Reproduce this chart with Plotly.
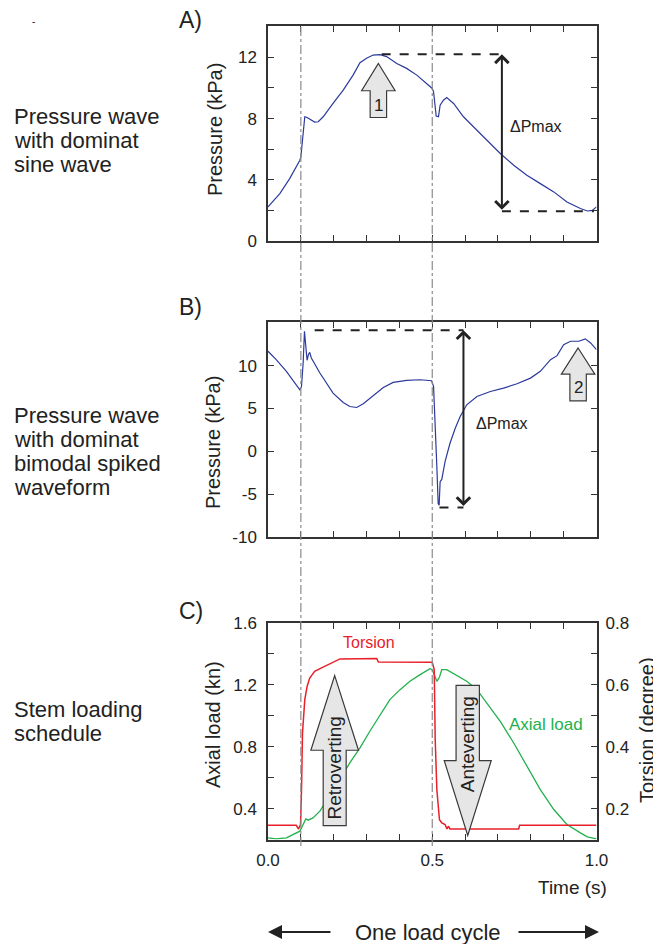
import plotly.graph_objects as go

# ---------------- DATA ----------------
time_a = [0.0, 0.036, 0.066, 0.097, 0.100, 0.107, 0.112, 0.119, 0.132, 0.142, 0.153, 0.168,
          0.198, 0.229, 0.259, 0.280, 0.300, 0.320, 0.341, 0.361, 0.392, 0.422, 0.453, 0.483,
          0.500, 0.504, 0.509, 0.512, 0.519, 0.524, 0.534, 0.544, 0.565, 0.595, 0.636, 0.677,
          0.707, 0.748, 0.788, 0.829, 0.870, 0.910, 0.951, 0.972, 0.987, 1.0]
pressure_a = [2.23, 3.1, 4.08, 5.28, 5.5, 7.24, 8.12, 8.07, 7.9, 7.77, 7.79, 8.12,
              9.0, 9.86, 10.84, 11.65, 11.94, 12.15, 12.18, 12.05, 11.6, 11.28, 10.84, 10.3,
              9.97, 9.75, 8.77, 8.16, 8.12, 8.88, 9.2, 9.38, 8.99, 8.12, 7.24, 6.37,
              5.72, 4.95, 4.3, 3.75, 3.21, 2.55, 2.12, 1.96, 2.0, 2.23]

time_b = [0.0, 0.025, 0.056, 0.086, 0.097, 0.102, 0.107, 0.111, 0.115, 0.119, 0.123, 0.127,
          0.132, 0.158, 0.198, 0.229, 0.249, 0.270, 0.290, 0.320, 0.351, 0.381, 0.422, 0.463,
          0.498, 0.504, 0.509, 0.514, 0.518, 0.521, 0.524, 0.529, 0.539, 0.554, 0.570, 0.585,
          0.605, 0.636, 0.677, 0.717, 0.758, 0.799, 0.829, 0.860, 0.880, 0.900, 0.921, 0.946,
          0.966, 0.982, 1.0]
pressure_b = [11.68, 10.7, 9.34, 7.77, 7.19, 7.58, 10.31, 14.02, 12.27, 10.63, 11.29, 11.56,
              10.9, 9.14, 6.8, 5.7, 5.23, 5.12, 5.55, 6.48, 7.46, 8.05, 8.28, 8.36,
              8.24, 7.58, 3.67, -1.8, -6.1, -6.29, -3.55, -3.28, -1.2, 0.94, 2.7, 4.06,
              5.43, 6.4, 6.99, 7.38, 7.89, 8.55, 9.34, 10.7, 11.17, 12.46, 12.85, 12.85,
              13.13, 12.66, 11.88]

time_axial = [0.0, 0.025, 0.056, 0.076, 0.097, 0.107, 0.115, 0.122, 0.137, 0.158, 0.188, 0.219,
              0.249, 0.280, 0.310, 0.341, 0.371, 0.402, 0.432, 0.463, 0.493, 0.500, 0.509, 0.514,
              0.522, 0.529, 0.544, 0.575, 0.605, 0.636, 0.666, 0.707, 0.748, 0.788, 0.829, 0.870,
              0.910, 0.951, 0.972, 1.0]
axial_load = [0.211, 0.204, 0.211, 0.232, 0.254, 0.297, 0.333, 0.325, 0.34, 0.383, 0.48, 0.588,
              0.695, 0.792, 0.9, 1.008, 1.105, 1.169, 1.223, 1.266, 1.305, 1.298, 1.255, 1.223,
              1.251, 1.298, 1.298, 1.26, 1.223, 1.169, 1.083, 0.964, 0.824, 0.674, 0.523, 0.394,
              0.297, 0.243, 0.217, 0.204]

time_torsion = [0.0, 0.086, 0.093, 0.099, 0.102, 0.105, 0.112, 0.119, 0.127, 0.142, 0.163, 0.183,
                0.198, 0.219, 0.331, 0.336, 0.500, 0.506, 0.509, 0.514, 0.522, 0.529, 0.539, 0.545,
                0.549, 0.554, 0.763, 0.766, 1.0]
torsion = [0.146, 0.146, 0.134, 0.148, 0.261, 0.444, 0.552, 0.595, 0.622, 0.644, 0.655, 0.665,
           0.673, 0.684, 0.685, 0.674, 0.673, 0.649, 0.423, 0.261, 0.164, 0.154, 0.148, 0.134,
           0.143, 0.134, 0.134, 0.146, 0.146]

x_tick_vals = [0.0, 0.5, 1.0]
a_tick_vals = [0, 4, 8, 12]
b_tick_vals = [-10, -5, 0, 5, 10]
b_tick_text = ["-10", "-5", "0", "5", "10"]
c_left_tick_vals = [0.4, 0.8, 1.2, 1.6]
c_right_tick_vals = [0.2, 0.4, 0.6, 0.8]

event_times = [0.1, 0.5]

# ---------------- STYLE / LAYOUT ----------------
W, H = 661, 944
OFF = 8  # page body margin offset of the plot div
FONT = "Liberation Sans, Arial, Helvetica, sans-serif"
TXT = "#222222"
FRAME = "#333333"
BLUE = "#2b3a9c"
GREEN = "#22b14c"
RED = "#e8202a"
ARROW_FILL = "#e6e6e6"


def px(x):
    return (x - OFF) / W


def py(y):
    return 1 - (y - OFF) / H


X_DOM = [px(268), px(596.5)]
A_DOM = [py(241), py(26)]
B_DOM = [py(537), py(322)]
C_DOM = [py(839.5), py(623)]

fig = go.Figure()
fig.add_trace(go.Scatter(x=time_a, y=pressure_a, mode="lines", line=dict(color=BLUE, width=1.2),
                         xaxis="x", yaxis="y", showlegend=False))
fig.add_trace(go.Scatter(x=time_b, y=pressure_b, mode="lines", line=dict(color=BLUE, width=1.2),
                         xaxis="x2", yaxis="y2", showlegend=False))
fig.add_trace(go.Scatter(x=time_axial, y=axial_load, mode="lines", line=dict(color=GREEN, width=1.3),
                         xaxis="x3", yaxis="y3", showlegend=False))
fig.add_trace(go.Scatter(x=time_torsion, y=torsion, mode="lines", line=dict(color=RED, width=1.5),
                         xaxis="x3", yaxis="y4", showlegend=False))

tickfont = dict(family=FONT, size=17, color=TXT)


def xaxis(show_labels, anchor):
    d = dict(domain=X_DOM, range=[0, 1], anchor=anchor, showline=True, linecolor=FRAME, linewidth=1.5,
             mirror="ticks", ticks="inside", ticklen=6, tickcolor=FRAME, tickwidth=1, showgrid=False,
             zeroline=False, tickfont=tickfont, automargin=False)
    if show_labels:
        d.update(tickvals=x_tick_vals, tickformat=".1f", ticklabelstandoff=4,
                 minor=dict(dtick=0.1, ticks="inside", ticklen=6, tickcolor=FRAME, showgrid=False))
    else:
        d.update(dtick=0.1, showticklabels=False)
    return d


def yaxis(dom, rng, vals, minor, anchor, fmt=None, text=None):
    d = dict(domain=dom, range=rng, anchor=anchor, tickvals=vals, showline=True, linecolor=FRAME,
             linewidth=1.5, mirror="ticks", ticks="inside", ticklen=6, tickcolor=FRAME, tickwidth=1,
             showgrid=False, zeroline=False, tickfont=tickfont, ticklabelstandoff=6, automargin=False,
             minor=dict(dtick=minor, ticks="inside", ticklen=6, tickcolor=FRAME, showgrid=False))
    if fmt:
        d["tickformat"] = fmt
    if text:
        d["ticktext"] = text
    return d


fig.update_layout(
    width=W, height=H, margin=dict(l=0, r=0, t=0, b=0, autoexpand=False),
    paper_bgcolor="white", plot_bgcolor="white",
    font=dict(family=FONT, color=TXT),
    xaxis=xaxis(False, "y"),
    yaxis=yaxis(A_DOM, [0, 14.05], a_tick_vals, 2, "x"),
    xaxis2=xaxis(False, "y2"),
    yaxis2=yaxis(B_DOM, [-10, 15.1], b_tick_vals, 5, "x2", text=b_tick_text),
    xaxis3=xaxis(True, "y3"),
    yaxis3=yaxis(C_DOM, [0.2, 1.6], c_left_tick_vals, 0.2, "x3", ".1f"),
    yaxis4=dict(domain=C_DOM, range=[0.1, 0.8], overlaying="y3", side="right", anchor="x3",
                tickvals=c_right_tick_vals, showline=False, ticks="", showgrid=False, zeroline=False,
                tickfont=tickfont, ticklabelstandoff=8, tickformat=".1f", automargin=False),
)

shapes = []
# event lines crossing all panels
for t in event_times:
    shapes.append(dict(type="line", xref="x", yref="paper", x0=t, x1=t, y0=py(846), y1=py(26),
                       line=dict(color="#8a8a8a", width=1.2, dash="dashdot"), layer="above"))


def block_arrow(xref, yref, tip_x, tip_y, head_base, head_half, shaft_half, tail):
    path = (f"M {tip_x} {tip_y} L {tip_x + head_half} {head_base} L {tip_x + shaft_half} {head_base} "
            f"L {tip_x + shaft_half} {tail} L {tip_x - shaft_half} {tail} L {tip_x - shaft_half} {head_base} "
            f"L {tip_x - head_half} {head_base} Z")
    return dict(type="path", xref=xref, yref=yref, path=path, fillcolor=ARROW_FILL,
                line=dict(color="#3a3a3a", width=1.2), layer="above")


shapes.append(block_arrow("x", "y", 0.336, 11.6, 9.82, 0.051, 0.025, 8.07))
shapes.append(block_arrow("x2", "y2", 0.944, 12.07, 9.02, 0.051, 0.025, 5.9))
shapes.append(block_arrow("x3", "y3", 0.203, 1.26, 0.777, 0.0725, 0.035, 0.29))
shapes.append(block_arrow("x3", "y3", 0.608, 0.226, 0.71, 0.0715, 0.0355, 1.197))

# dashed delta lines
dash_line = dict(color="#222222", width=2, dash="dash")
shapes += [
    dict(type="line", xref="x", yref="y", x0=0.346, x1=0.712, y0=12.2, y1=12.2, line=dash_line),
    dict(type="line", xref="x", yref="y", x0=0.712, x1=0.992, y0=1.94, y1=1.94, line=dash_line),
    dict(type="line", xref="x2", yref="y2", x0=0.142, x1=0.595, y0=14.14, y1=14.14, line=dash_line),
    dict(type="line", xref="x2", yref="y2", x0=0.522, x1=0.595, y0=-6.56, y1=-6.56, line=dash_line),
]
fig.update_layout(shapes=shapes)

ann = []


def txt(x, y, s, size, xanchor="center", yanchor="middle", color=TXT, angle=0, xref="paper", yref="paper"):
    ann.append(dict(x=x, y=y, xref=xref, yref=yref, text=s, showarrow=False, xanchor=xanchor,
                    yanchor=yanchor, textangle=angle, font=dict(family=FONT, size=size, color=color)))


def dbl_arrow(xref, yref, x, y0, y1):
    ann.append(dict(x=x, y=y0, ax=x, ay=y1, xref=xref, yref=yref, axref=xref, ayref=yref, text="",
                    showarrow=True, arrowhead=4, startarrowhead=4, arrowside="end+start",
                    arrowsize=1.3, startarrowsize=1.3, arrowwidth=2, arrowcolor="#222222",
                    standoff=0, startstandoff=0))


dbl_arrow("x", "y", 0.712, 12.2, 1.94)
dbl_arrow("x2", "y2", 0.595, 14.14, -6.56)

# panel labels
txt(px(177), py(20), "A)", 23, xanchor="left")
txt(px(177), py(307), "B)", 23, xanchor="left")
txt(px(177), py(611), "C)", 23, xanchor="left")

# left descriptions
left_a = ["Pressure wave", "with dominat", "sine wave"]
left_b = ["Pressure wave", "with dominat", "bimodal spiked", "waveform"]
left_c = ["Stem loading", "schedule"]
for lines, base in ((left_a, 124.3), (left_b, 423), (left_c, 716.5)):
    for i, s in enumerate(lines):
        txt(px(12), py(base + 24 * i - 7.5), s, 22, xanchor="left")

# axis titles
txt(px(215), py(130), "Pressure (kPa)", 20, angle=-90)
txt(px(213), py(442), "Pressure (kPa)", 20, angle=-90)
txt(px(213), py(724), "Axial load (kn)", 20, angle=-90)
txt(px(647), py(730), "Torsion (degree)", 20, angle=-90)
txt(px(572), py(887), "Time (s)", 19)

# in-plot labels
txt(0.732, 7.46, "ΔPmax", 16, xanchor="left", xref="x", yref="y")
txt(0.628, 3.2, "ΔPmax", 16, xanchor="left", xref="x2", yref="y2")
txt(0.336, 8.88, "1", 17, xref="x", yref="y")
txt(0.944, 7.5, "2", 17, xref="x2", yref="y2")
txt(0.308, 1.475, "Torsion", 16, color=RED, xref="x3", yref="y3")
txt(0.847, 0.943, "Axial load", 17, color=GREEN, xref="x3", yref="y3")
txt(0.203, 0.663, "Retroverting", 19, angle=-90, xref="x3", yref="y3")
txt(0.608, 0.814, "Anteverting", 19, angle=-90, xref="x3", yref="y3")

# bottom "one load cycle"
txt(px(428), py(932), "One load cycle", 22)
ann.append(dict(x=px(268), y=py(932), ax=64, ay=0, xref="paper", yref="paper",
                axref="pixel", ayref="pixel", text="", showarrow=True, arrowhead=2, arrowsize=1.4,
                arrowwidth=2, arrowcolor="#222222", standoff=0))
ann.append(dict(x=px(599), y=py(932), ax=-82, ay=0, xref="paper", yref="paper",
                axref="pixel", ayref="pixel", text="", showarrow=True, arrowhead=2, arrowsize=1.4,
                arrowwidth=2, arrowcolor="#222222", standoff=0))

# small mark at top-left
ann.append(dict(x=px(30), y=py(14), xref="paper", yref="paper", text="-", showarrow=False,
                font=dict(family=FONT, size=10, color=TXT)))

fig.update_layout(annotations=ann)
fig.write_html("out.html")
